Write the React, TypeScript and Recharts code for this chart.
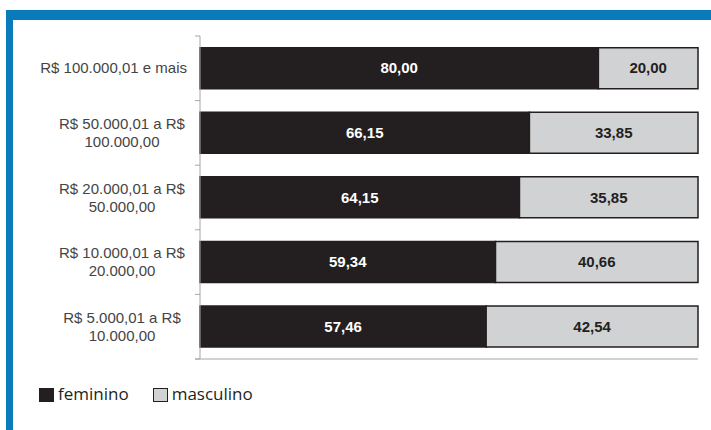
import React from "react";
import { BarChart, Bar, XAxis, YAxis, LabelList } from "recharts";

const categories: string[][] = [
  ["R$ 100.000,01 e mais"],
  ["R$ 50.000,01 a R$", "100.000,00"],
  ["R$ 20.000,01 a R$", "50.000,00"],
  ["R$ 10.000,01 a R$", "20.000,00"],
  ["R$ 5.000,01 a R$", "10.000,00"],
];
const feminino = [80.0, 66.15, 64.15, 59.34, 57.46];
const masculino = [20.0, 33.85, 35.85, 40.66, 42.54];
const seriesNames = ["feminino", "masculino"];

const data = categories.map((c, i) => ({
  name: c.join("|"),
  feminino: feminino[i],
  masculino: masculino[i],
}));

const DARK = "#231f20";
const GRAY = "#d1d2d4";
const AXIS = "#a6a6a6";
const FONT = "'Liberation Sans', Arial, sans-serif";

const fmt = (v: any) => Number(v).toFixed(2).replace(".", ",");

const W = 711;
const H = 430;
const PLOT_TOP = 36;
const PLOT_BOTTOM = 359;
const BAND = (PLOT_BOTTOM - PLOT_TOP) / categories.length;

const Tick = (props: any) => {
  const { y, payload, index } = props;
  const lines: string[] = String(payload.value).split("|");
  const axisX = 200;
  const items: any[] = [];
  items.push(
    <line key="t" x1={axisX - 5} x2={axisX} y1={y - BAND / 2} y2={y - BAND / 2} stroke={AXIS} strokeWidth={1} />
  );
  if (index === categories.length - 1) {
    items.push(
      <line key="b" x1={axisX - 5} x2={axisX} y1={y + BAND / 2} y2={y + BAND / 2} stroke={AXIS} strokeWidth={1} />
    );
  }
  if (lines.length === 1) {
    items.push(
      <text key="l0" x={187} y={y + 5} textAnchor="end" fontSize={15} fontFamily={FONT} fill="#444">
        {lines[0]}
      </text>
    );
  } else {
    lines.forEach((l, i) => {
      items.push(
        <text key={"l" + i} x={122} y={y - 4 + i * 18} textAnchor="middle" fontSize={15} fontFamily={FONT} fill="#444">
          {l}
        </text>
      );
    });
  }
  return <g>{items}</g>;
};

const LegendBox = () => (
  <div
    style={{
      position: "absolute",
      left: 39,
      top: 382,
      display: "flex",
      alignItems: "center",
      fontFamily: "'Open Sans', 'Noto Sans', sans-serif",
      fontSize: 17,
      lineHeight: "24px",
      color: "#231f20",
    }}
  >
    {seriesNames.map((n, i) => (
      <div key={n} style={{ display: "flex", alignItems: "center", marginRight: 24 }}>
        <span
          style={{
            display: "inline-block",
            width: 15,
            height: 14,
            background: i === 0 ? DARK : GRAY,
            border: i === 0 ? "none" : "1.5px solid " + DARK,
            boxSizing: "border-box",
            marginRight: 4,
            marginTop: 2,
          }}
        />
        <span>{n}</span>
      </div>
    ))}
  </div>
);

export default function App() {
  return (
    <div style={{ position: "absolute", left: 0, top: 0, width: W, height: H, background: "#fff", overflow: "hidden" }}>
      <div style={{ position: "absolute", left: 6, top: 10, width: W - 6, height: 10, background: "#0a7bba" }} />
      <div style={{ position: "absolute", left: 6, top: 10, width: 7, height: H - 10, background: "#0a7bba" }} />
      <div style={{ position: "absolute", left: 0, top: 0 }}>
        <BarChart
          width={W}
          height={H}
          data={data}
          layout="vertical"
          margin={{ top: PLOT_TOP, right: 13, bottom: H - PLOT_BOTTOM, left: 0 }}
          barCategoryGap="18%"
        >
          <XAxis type="number" domain={[0, 100]} hide />
          <YAxis
            type="category"
            dataKey="name"
            width={200}
            axisLine={{ stroke: AXIS }}
            tickLine={false}
            tick={<Tick />}
            interval={0}
          />
          <Bar dataKey="feminino" stackId="a" fill={DARK} stroke={DARK} strokeWidth={1.5} isAnimationActive={false}>
            <LabelList dataKey="feminino" position="center" formatter={fmt} fill="#fff" fontSize={15} fontWeight="bold" fontFamily={FONT} />
          </Bar>
          <Bar dataKey="masculino" stackId="a" fill={GRAY} stroke={DARK} strokeWidth={1.5} isAnimationActive={false}>
            <LabelList dataKey="masculino" position="center" formatter={fmt} fill={DARK} fontSize={15} fontWeight="bold" fontFamily={FONT} />
          </Bar>
        </BarChart>
      </div>
      <svg style={{ position: "absolute", left: 0, top: 0, pointerEvents: "none" }} width={W} height={H}>
        <line x1={195} x2={698} y1={PLOT_BOTTOM} y2={PLOT_BOTTOM} stroke={AXIS} strokeWidth={1} />
      </svg>
      <LegendBox />
    </div>
  );
}
